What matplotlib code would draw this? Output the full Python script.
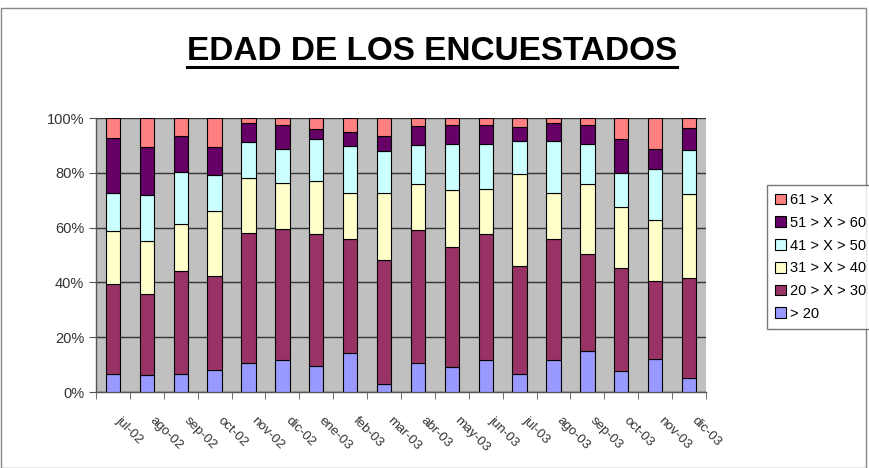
import matplotlib.pyplot as plt
import matplotlib.transforms as mtransforms
import numpy as np

### Data (percent of respondents per age group)
months = ['jul-02', 'ago-02', 'sep-02', 'oct-02', 'nov-02', 'dic-02',
          'ene-03', 'feb-03', 'mar-03', 'abr-03', 'may-03', 'jun-03',
          'jul-03', 'ago-03', 'sep-03', 'oct-03', 'nov-03', 'dic-03']

menos_20 = [6.7, 6.1, 6.6, 7.9, 10.6, 11.6, 9.4, 14.2, 2.9, 10.6, 9.1, 11.6, 6.7, 11.8, 14.8, 7.8, 12.2, 5.1]
de_20_30 = [32.8, 29.8, 37.4, 34.6, 47.4, 48.0, 48.3, 41.8, 45.4, 48.6, 43.8, 46.2, 39.4, 44.2, 35.7, 37.5, 28.2, 36.5]
de_31_40 = [19.1, 19.1, 17.3, 23.4, 20.1, 16.6, 19.4, 16.6, 24.2, 16.7, 20.9, 16.3, 33.5, 16.6, 25.5, 22.1, 22.5, 30.7]
de_41_50 = [13.9, 17.0, 19.0, 13.2, 13.0, 12.5, 15.2, 17.3, 15.3, 14.1, 16.7, 16.4, 11.9, 18.9, 14.5, 12.4, 18.5, 16.1]
de_51_60 = [20.2, 17.4, 13.3, 10.4, 7.1, 8.9, 3.7, 4.9, 5.5, 7.1, 6.9, 7.1, 5.1, 6.7, 7.1, 12.7, 7.4, 8.0]
mas_61 = [7.3, 10.6, 6.4, 10.5, 1.8, 2.4, 4.0, 5.2, 6.7, 2.9, 2.6, 2.4, 3.4, 1.8, 2.4, 7.5, 11.2, 3.6]

series = [menos_20, de_20_30, de_31_40, de_41_50, de_51_60, mas_61]
labels = ['> 20', '20 > X > 30', '31 > X > 40', '41 > X > 50', '51 > X > 60', '61 > X']
colors = ['#9999FF', '#993366', '#FFFFCC', '#CCFFFF', '#660066', '#FF8080']

plt.rcParams['font.family'] = ['Liberation Sans', 'DejaVu Sans']

fig = plt.figure(figsize=(8.69, 4.68), dpi=100)
ax = fig.add_axes([96 / 869, 1 - 392 / 468, 610 / 869, 274 / 468])
ax.set_facecolor('#C0C0C0')

x = np.arange(len(months))
data = np.array(series, dtype=float)
data = data / data.sum(axis=0) * 100  # 100% stacked
bottom = np.zeros(len(months))
for vals, lab, col in zip(data, labels, colors):
    ax.bar(x, vals, width=0.42, bottom=bottom, color=col,
           edgecolor='black', linewidth=0.8, label=lab, zorder=3)
    bottom += vals

ax.set_xlim(-0.5, len(months) - 0.5)
ax.set_ylim(0, 100)
ax.set_yticks(np.arange(0, 101, 20))
ax.set_yticklabels([f'{v}%' for v in range(0, 101, 20)], fontsize=10.5, color='#333333')
ax.yaxis.grid(True, color='#333333', linewidth=1, zorder=1)

# category labels, tick marks between categories
ax.set_xticks(x)
ax.set_xticklabels(months, rotation=-45, ha='left', va='top',
                   rotation_mode='anchor', fontsize=9.5, color='#333333')
ax.tick_params(axis='x', length=0, pad=14)
shift = mtransforms.ScaledTranslation(9 / 100, -3 / 100, fig.dpi_scale_trans)
for t in ax.get_xticklabels():
    t.set_transform(t.get_transform() + shift)
ax.set_xticks(np.arange(-0.5, len(months)), minor=True)
ax.tick_params(axis='x', which='minor', length=5, color='#555555')
ax.tick_params(axis='y', length=5, color='#555555')

for s in ['top', 'right']:
    ax.spines[s].set_visible(False)
for s in ['left', 'bottom']:
    ax.spines[s].set_color('#555555')
    ax.spines[s].set_linewidth(1)

# legend in reverse order, as in the original
h, l = ax.get_legend_handles_labels()
leg = fig.legend(h[::-1], l[::-1], loc='upper left', bbox_to_anchor=(767 / 869, 1 - 185 / 468),
                 fontsize=10.5, frameon=True, fancybox=False, edgecolor='#555555',
                 handlelength=0.75, handleheight=0.75, handletextpad=0.3,
                 labelspacing=0.6, borderpad=0.55, borderaxespad=0)
leg.get_frame().set_linewidth(1)

# title with underline
title = fig.text(432 / 869, 1 - 52 / 468, 'EDAD DE LOS ENCUESTADOS', ha='center', va='center',
                 fontsize=24, fontweight='bold', color='black')
fig.canvas.draw()
bb = title.get_window_extent().transformed(fig.transFigure.inverted())
fig.add_artist(plt.Line2D([bb.x0, bb.x1], [bb.y0 + 0.002, bb.y0 + 0.002], color='black',
                          linewidth=2.2, transform=fig.transFigure))

# outer chart border
fig.add_artist(plt.Rectangle((0.001, 0.0), 0.996, 1 - 8 / 468, fill=False,
                             edgecolor='#888888', linewidth=1, transform=fig.transFigure))

fig.savefig('out.png', dpi=100)
